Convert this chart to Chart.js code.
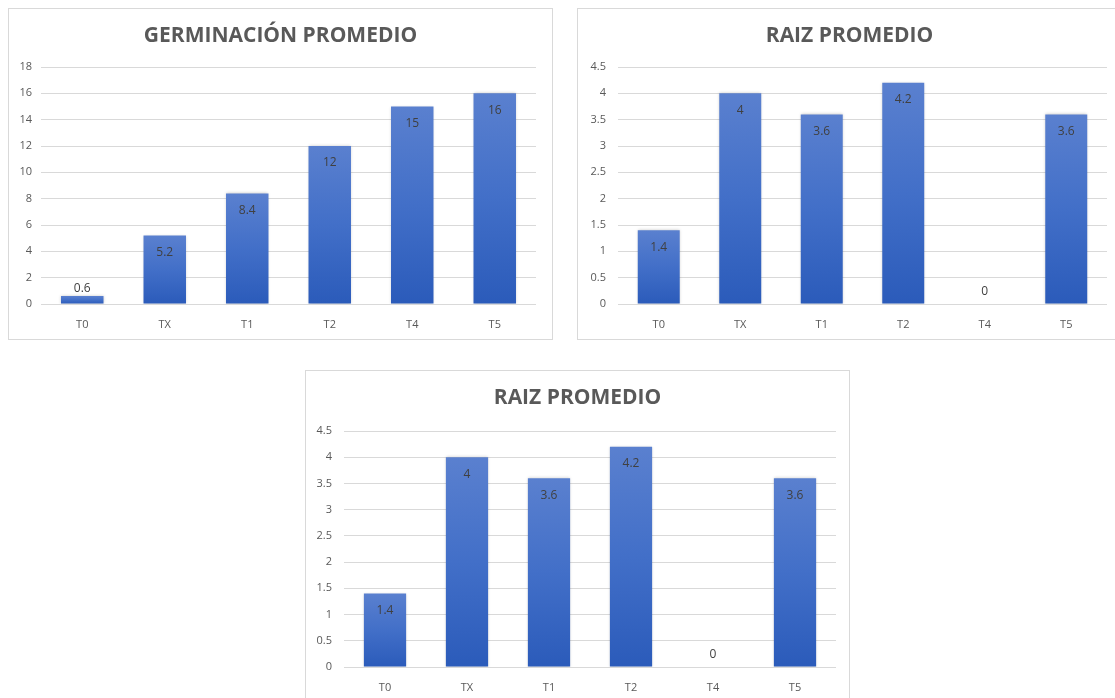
<!DOCTYPE html>
<html>
<head>
<meta charset="utf-8">
<script src="https://cdn.jsdelivr.net/npm/chart.js@4/dist/chart.umd.min.js"></script>
<style>
  html, body { margin: 0; padding: 0; background: #fff; width: 1115px; height: 698px; overflow: hidden; }
  .box { position: absolute; border: 1px solid #d9d9d9; width: 543px; height: 330px; background: #fff; }
  canvas { display: block; }
</style>
</head>
<body>
<div class="box" style="left:8px; top:8px;"><canvas id="germinacion" width="543" height="330"></canvas></div>
<div class="box" style="left:577px; top:8px;"><canvas id="raiz1" width="543" height="330"></canvas></div>
<div class="box" style="left:305px; top:370px;"><canvas id="raiz2" width="543" height="330"></canvas></div>
<script>
const categories = [ 'T0', 'TX', 'T1', 'T2', 'T4', 'T5' ]
const germinacion = [ 0.6, 5.2, 8.4, 12, 15, 16 ]
const raiz = [ 1.4, 4, 3.6, 4.2, 0, 3.6 ]
const germinacionTicks = [ 0, 2, 4, 6, 8, 10, 12, 14, 16, 18 ]
const raizTicks = [ 0, 0.5, 1, 1.5, 2, 2.5, 3, 3.5, 4, 4.5 ]

const FONT = "'Open Sans', sans-serif"

// degradado vertical para cada barra (claro arriba, oscuro abajo)
const barFill = ( ctx ) => {
  const chart = ctx.chart
  const y = chart.scales.y
  if ( !chart.chartArea || !y || ctx.raw === undefined ) return '#3f6cc6'
  const top = y.getPixelForValue( ctx.raw )
  const bottom = y.getPixelForValue( 0 )
  if ( bottom - top < 1 ) return '#3f6cc6'
  const g = chart.ctx.createLinearGradient( 0, top, 0, bottom )
  g.addColorStop( 0, '#5a80cf' )
  g.addColorStop( 0.5, '#426fc8' )
  g.addColorStop( 1, '#2b5bba' )
  return g
}

// titulo centrado sobre todo el lienzo
const centeredTitle = {
  id: 'centeredTitle',
  afterDraw( chart, args, opts ) {
    const c = chart.ctx
    c.save()
    c.font = `bold 21px ${FONT}`
    c.fillStyle = '#595959'
    c.textAlign = 'center'
    c.textBaseline = 'middle'
    c.fillText( opts.text, chart.width / 2, 27 )
    c.restore()
  }
}

// sombra suave de las barras
const barShadow = {
  id: 'barShadow',
  beforeDatasetsDraw( chart ) {
    const c = chart.ctx
    c.save()
    c.shadowColor = 'rgba(0, 0, 0, 0.22)'
    c.shadowBlur = 3
  },
  afterDatasetsDraw( chart ) {
    chart.ctx.restore()
  }
}

// etiquetas con el valor dentro del extremo de la barra (encima si no cabe)
const valueLabels = {
  id: 'valueLabels',
  afterDatasetsDraw( chart ) {
    const c = chart.ctx
    const meta = chart.getDatasetMeta( 0 )
    const values = chart.data.datasets[0].data
    c.save()
    c.font = `12px ${FONT}`
    c.fillStyle = '#404040'
    c.textAlign = 'center'
    c.textBaseline = 'middle'
    meta.data.forEach( ( bar, i ) => {
      const h = bar.base - bar.y
      let ly = bar.y + 17
      if ( h < 22 ) ly = bar.y - ( h < 1 ? 12 : 8 )
      c.fillText( String( values[i] ), bar.x, ly )
    } )
    c.restore()
  }
}

const makeChart = ( id, title, values, ticks, area ) => {
  const canvas = document.getElementById( id )
  const config = {
    type: 'bar',
    data: {
      labels: categories,
      datasets: [{
        data: values,
        backgroundColor: barFill,
        borderWidth: 0,
        barPercentage: 0.515,
        categoryPercentage: 1
      }]
    },
    options: {
      responsive: false,
      animation: false,
      events: [],
      layout: { padding: { left: 0, right: area.right, top: area.top, bottom: 0 } },
      plugins: {
        legend: { display: false },
        tooltip: { enabled: false },
        title: { display: false },
        centeredTitle: { text: title }
      },
      scales: {
        x: {
          grid: { display: false },
          border: { display: false },
          ticks: { color: '#595959', font: { family: FONT, size: 11 }, padding: 6, maxRotation: 0 },
          afterFit: ( scale ) => { scale.height = canvas.height - area.bottom }
        },
        y: {
          min: 0,
          max: ticks[ticks.length - 1],
          grid: { color: '#d9d9d9', lineWidth: 1, drawTicks: false },
          border: { display: false },
          ticks: {
            color: '#595959',
            font: { family: FONT, size: 11 },
            padding: area.pad,
            callback: ( v ) => String( v )
          },
          afterBuildTicks: ( scale ) => { scale.ticks = ticks.map( ( v ) => ( { value: v } ) ) },
          afterFit: ( scale ) => { scale.width = area.left }
        }
      }
    },
    plugins: [ barShadow, valueLabels, centeredTitle ]
  }
  return new Chart( canvas, config )
}

makeChart( 'germinacion', 'GERMINACIÓN PROMEDIO', germinacion, germinacionTicks,
  { right: 16, left: 32, top: 58, bottom: 295, pad: 9 } )
makeChart( 'raiz1', 'RAIZ PROMEDIO', raiz, raizTicks,
  { right: 14, left: 40, top: 58, bottom: 295, pad: 12 } )
makeChart( 'raiz2', 'RAIZ PROMEDIO', raiz, raizTicks,
  { right: 13, left: 38, top: 60, bottom: 296, pad: 12 } )
</script>
</body>
</html>
